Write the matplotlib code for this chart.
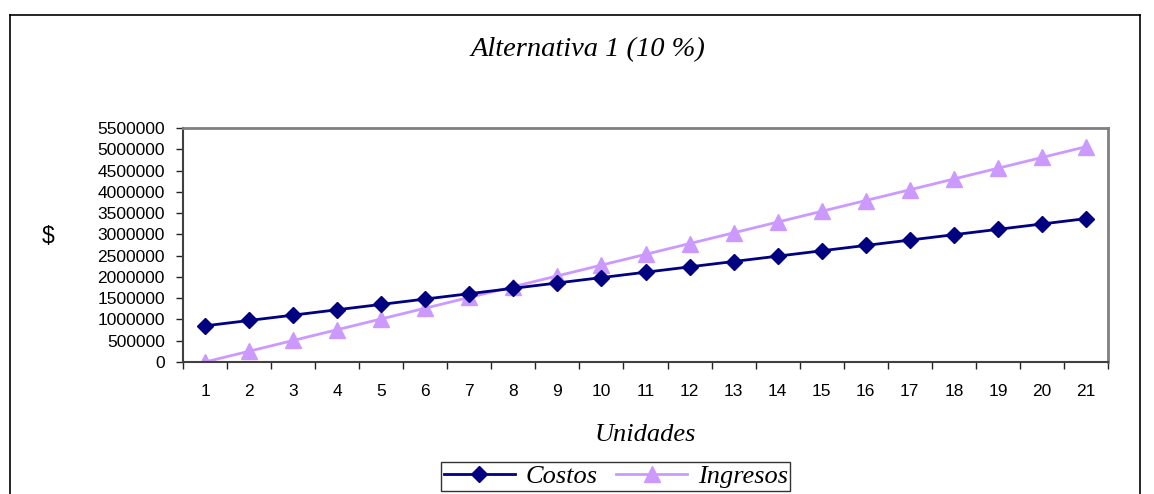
import matplotlib
matplotlib.use("Agg")
import matplotlib.pyplot as plt
from matplotlib.lines import Line2D
from matplotlib.ticker import FixedLocator, NullFormatter

# Units produced and the corresponding cost / revenue totals
unidades = list(range(1, 22))
costos = [850000, 976000, 1102000, 1228000, 1354000, 1480000, 1606000,
          1732000, 1858000, 1984000, 2110000, 2236000, 2362000, 2488000,
          2614000, 2740000, 2866000, 2992000, 3118000, 3244000, 3370000]
ingresos = [0, 253000, 506000, 759000, 1012000, 1265000, 1518000,
            1771000, 2024000, 2277000, 2530000, 2783000, 3036000, 3289000,
            3542000, 3795000, 4048000, 4301000, 4554000, 4807000, 5060000]
y_ticks = list(range(0, 5500001, 500000))

titulo = "Alternativa 1 (10 %)"
x_label = "Unidades"
y_label = "$"

W, H = 1154, 494
fig = plt.figure(figsize=(W / 100, H / 100), dpi=100)
ax = fig.add_axes([183 / W, 1 - 362 / H, (1108 - 183) / W, (362 - 128) / H])

sans = "Liberation Sans"
serif = "Liberation Serif"

ax.plot(unidades, costos, color="#000080", lw=2.0, marker="D", ms=8.5,
        label="Costos", zorder=3)
ax.plot(unidades, ingresos, color="#CC99FF", lw=2.0, marker="^", ms=11,
        label="Ingresos", zorder=2)

ax.set_xlim(0.5, 21.5)
ax.set_ylim(0, 5500000)

# Category labels centred, tick marks on category boundaries
ax.xaxis.set_major_locator(FixedLocator(unidades))
ax.set_xticklabels([str(u) for u in unidades], fontfamily=sans, fontsize=12.5)
ax.xaxis.set_minor_locator(FixedLocator([u + 0.5 for u in range(0, 22)]))
ax.xaxis.set_minor_formatter(NullFormatter())
ax.tick_params(axis="x", which="major", length=0, pad=16)
ax.tick_params(axis="x", which="minor", length=5, width=1, direction="out",
               color="#222222")

ax.set_yticks(y_ticks)
ax.set_yticklabels([str(v) for v in y_ticks], fontfamily=sans, fontsize=12.5)
ax.tick_params(axis="y", length=5, width=1, direction="out", pad=8,
               color="#222222")

for side in ("top", "right"):
    ax.spines[side].set_color("#808080")
    ax.spines[side].set_linewidth(2)
for side in ("left", "bottom"):
    ax.spines[side].set_color("#404040")
    ax.spines[side].set_linewidth(1.5)

fig.text(588 / W, 1 - 50 / H, titulo, ha="center", va="center",
         fontfamily=serif, fontstyle="italic", fontsize=20.5)
fig.text(48 / W, 1 - 236 / H, y_label, ha="center", va="center",
         fontfamily=sans, fontsize=16.5)
fig.text(645 / W, 1 - 435 / H, x_label, ha="center", va="center",
         fontfamily=serif, fontstyle="italic", fontsize=19)

leg = fig.legend(loc="upper left", bbox_to_anchor=(441 / W, 1 - 462 / H),
                 ncol=2, frameon=True, fancybox=False, handlelength=2.7,
                 handletextpad=0.4, columnspacing=0.7, borderpad=0.1,
                 borderaxespad=0,
                 prop={"family": serif, "style": "italic", "size": 19})
leg.get_frame().set_edgecolor("black")
leg.get_frame().set_linewidth(1)

# Outer chart frame (bottom edge lies below the canvas)
frame_kw = dict(color="black", lw=1.2, transform=fig.transFigure)
fig.add_artist(Line2D([10 / W, 1140 / W], [1 - 15 / H, 1 - 15 / H], **frame_kw))
fig.add_artist(Line2D([10 / W, 10 / W], [1 - 15 / H, 0], **frame_kw))
fig.add_artist(Line2D([1140 / W, 1140 / W], [1 - 15 / H, 0], **frame_kw))

fig.savefig("out.png", dpi=100, facecolor="white")
